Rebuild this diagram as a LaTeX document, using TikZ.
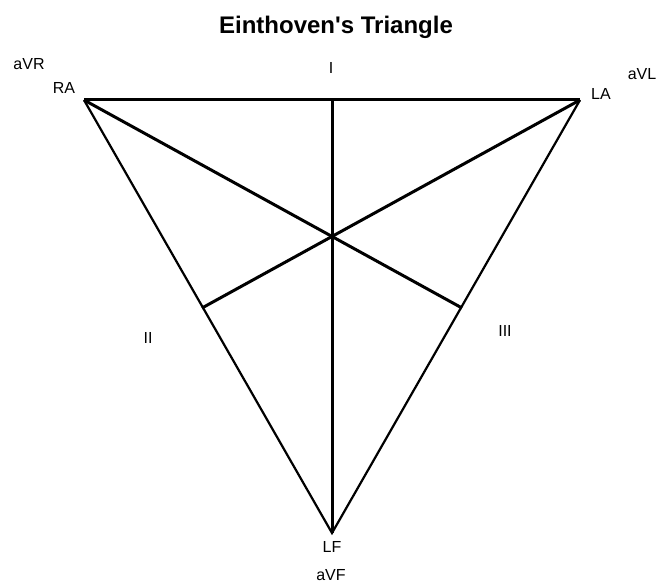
\documentclass[tikz,border=0pt]{standalone}
\usepackage{fontspec}
\setmainfont{Liberation Sans}
\usepackage{tikz}
\usetikzlibrary{calc}

\begin{document}
\begin{tikzpicture}[x=1pt, y=-1pt,
	lead/.style={font=\fontsize{16}{19}\selectfont, inner sep=0pt},
	titel/.style={font=\fontsize{24}{28}\selectfont\bfseries, inner sep=0pt},
	seite/.style={draw=black, line width=2.2pt, line join=miter},
	achse/.style={draw=black, line width=3pt}
	]
\useasboundingbox (0,0) rectangle (661,585);

% Ecken des Dreiecks
\coordinate (RA) at (84,100);
\coordinate (LA) at (580,100);
\coordinate (LF) at (332,533);
\coordinate (mitte) at (332,237);
\coordinate (oben) at (332,100);
\coordinate (fussL) at (202,308);
\coordinate (fussR) at (462,308);

\draw[seite] (RA) -- (LF) -- (LA);
\draw[achse] (RA) -- (LA);
\draw[achse] (oben) -- (LF);
\draw[achse] (RA) -- (fussR);
\draw[achse] (LA) -- (fussL);

\node[titel] (t) at (336,27) {Einthoven\textquotesingle s Triangle};
\node[lead] (avr) at (29,64) {aVR};
\node[lead] (ra) at (64,88) {RA};
\node[lead] (i) at (331,68) {I};
\node[lead] (la) at (601,94) {LA};
\node[lead] (avl) at (642,74) {aVL};
\node[lead] (ii) at (148,338) {II};
\node[lead] (iii) at (505,331) {III};
\node[lead] (lf) at (332,547) {LF};
\node[lead] (avf) at (331,575) {aVF};
\end{tikzpicture}
\end{document}
